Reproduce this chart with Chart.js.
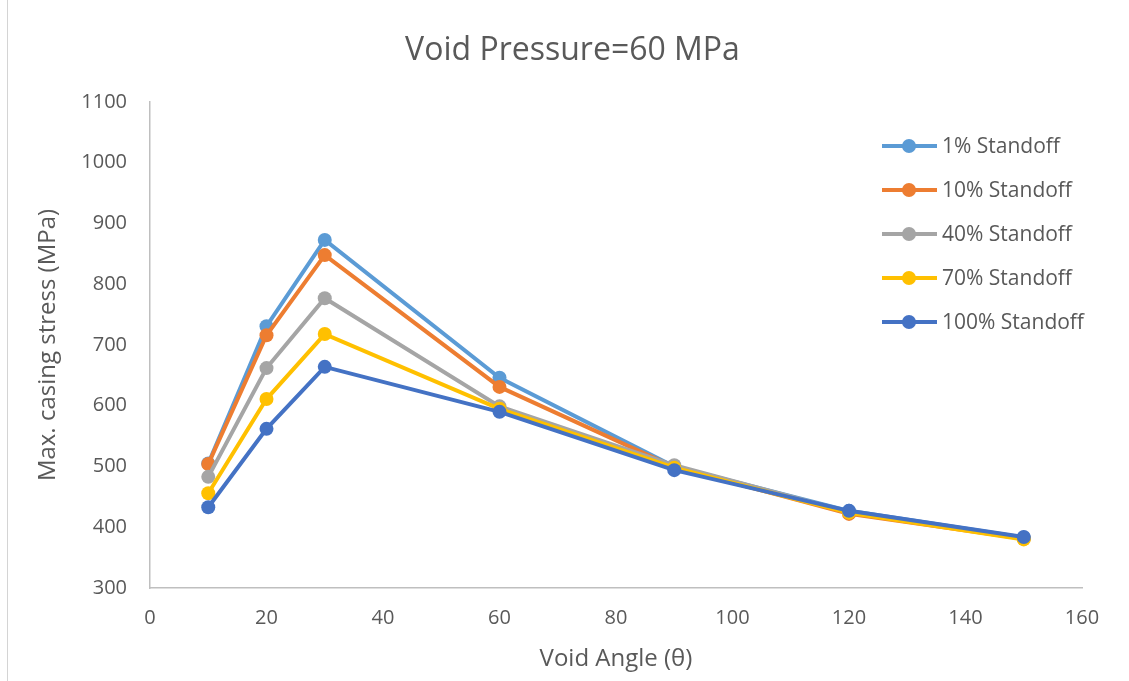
<!DOCTYPE html>
<html>
<head>
<meta charset="utf-8">
<script src="https://cdn.jsdelivr.net/npm/chart.js@4.4.1/dist/chart.umd.min.js"></script>
<style>
html, body { margin: 0; padding: 0; background: #fff; }
#wrap { position: relative; width: 1129px; height: 681px; }
#edge { position: absolute; left: 7px; top: 0; width: 1px; height: 681px; background: #d4d4d4; }
</style>
</head>
<body>
<div id="wrap"><canvas id="chart" width="1129" height="681"></canvas><div id="edge"></div></div>
<script>
// values
var angles = [10, 20, 30, 60, 90, 120, 150];
var standoff1 = [505, 731, 873, 646, 500, 427, 383];
var standoff10 = [504, 716, 848, 631, 499, 422, 381];
var standoff40 = [483, 662, 777, 599, 502, 425, 382];
var standoff70 = [456, 611, 718, 595, 498, 424, 380];
var standoff100 = [433, 562, 664, 590, 494, 427, 384];
var seriesNames = ["1% Standoff", "10% Standoff", "40% Standoff", "70% Standoff", "100% Standoff"];
var seriesValues = [standoff1, standoff10, standoff40, standoff70, standoff100];
var seriesColors = ["#5B9BD5", "#ED7D31", "#A5A5A5", "#FFC000", "#4472C4"];
var yMin = 300, yMax = 1100, yStep = 100;
var xMin = 0, xMax = 160, xStep = 20;

var textColor = "#595959";
var axisColor = "#bfbfbf";
var fontName = "'Open Sans', sans-serif";

function toPoints(values) {
    var pts = [];
    for (var i = 0; i < angles.length; i++) {
        pts.push({ x: angles[i], y: values[i] });
    }
    return pts;
}

var datasets = [];
for (var i = 0; i < seriesNames.length; i++) {
    datasets.push({
        label: seriesNames[i],
        data: toPoints(seriesValues[i]),
        borderColor: seriesColors[i],
        backgroundColor: seriesColors[i],
        borderWidth: 4,
        pointRadius: 7,
        pointBorderWidth: 0,
        pointBackgroundColor: seriesColors[i],
        tension: 0,
        order: seriesNames.length - i   // last series on top, like the original
    });
}

// legend drawn inside the plot area, top right
var insideLegend = {
    id: "insideLegend",
    afterDraw: function(chart) {
        var ctx = chart.ctx;
        var area = chart.chartArea;
        var x0 = area.right - 200;
        var y0 = area.top + 44;
        ctx.save();
        ctx.font = "21px " + fontName;
        ctx.textBaseline = "middle";
        ctx.textAlign = "left";
        for (var i = 0; i < seriesNames.length; i++) {
            var y = y0 + i * 44;
            ctx.strokeStyle = seriesColors[i];
            ctx.lineWidth = 4;
            ctx.beginPath();
            ctx.moveTo(x0, y);
            ctx.lineTo(x0 + 55, y);
            ctx.stroke();
            ctx.fillStyle = seriesColors[i];
            ctx.beginPath();
            ctx.arc(x0 + 27, y, 7, 0, Math.PI * 2);
            ctx.fill();
            ctx.fillStyle = textColor;
            ctx.fillText(seriesNames[i], x0 + 60, y + 1);
        }
        ctx.restore();
    }
};

new Chart(document.getElementById("chart"), {
    type: "line",
    data: { datasets: datasets },
    plugins: [insideLegend],
    options: {
        responsive: false,
        animation: false,
        devicePixelRatio: 1,
        layout: { padding: { left: 16, right: 0, top: 0, bottom: 0 } },
        plugins: {
            legend: { display: false },
            tooltip: { enabled: false },
            title: {
                display: true,
                text: "Void Pressure=60 MPa",
                color: textColor,
                font: { family: fontName, size: 32, weight: "normal" },
                padding: { top: 32, bottom: 31.6 }
            }
        },
        scales: {
            x: {
                type: "linear",
                min: xMin,
                max: xMax,
                grid: { display: false, drawTicks: false },
                border: { display: true, color: axisColor, width: 1.5 },
                ticks: {
                    stepSize: xStep,
                    color: textColor,
                    padding: 18,
                    maxRotation: 0,
                    font: { family: fontName, size: 20 },
                    callback: function(v) { return String(v); }
                },
                title: {
                    display: true,
                    text: "Void Angle (θ)",
                    color: textColor,
                    font: { family: fontName, size: 24 },
                    padding: { top: 0, bottom: 7 }
                },
                afterFit: function(scale) { scale.height = 93; }
            },
            y: {
                type: "linear",
                min: yMin,
                max: yMax,
                grid: { display: false, drawTicks: false },
                border: { display: true, color: axisColor, width: 1.5 },
                ticks: {
                    stepSize: yStep,
                    color: textColor,
                    padding: 23,
                    font: { family: fontName, size: 20 },
                    callback: function(v) { return String(v); }
                },
                title: {
                    display: true,
                    text: "Max. casing stress (MPa)",
                    color: textColor,
                    font: { family: fontName, size: 24 },
                    padding: { top: 18, bottom: 0 }
                },
                afterFit: function(scale) { scale.width = 134; }
            },
            yRight: {
                type: "linear",
                position: "right",
                display: true,
                grid: { display: false, drawTicks: false },
                border: { display: false },
                ticks: { display: false },
                afterFit: function(scale) { scale.width = 47; }
            }
        }
    }
});
</script>
</body>
</html>
